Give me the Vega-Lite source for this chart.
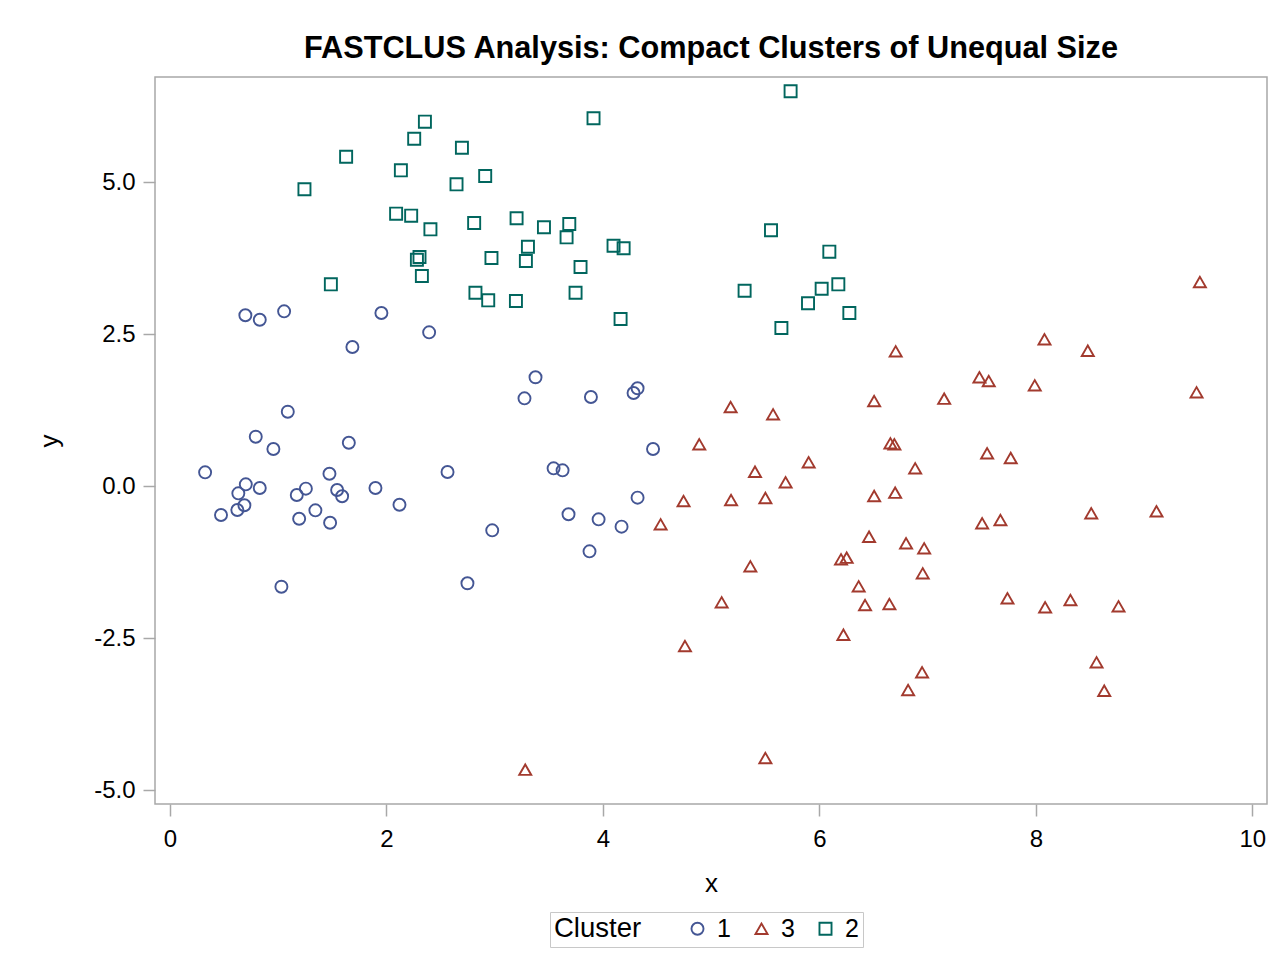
{
  "$schema": "https://vega.github.io/schema/vega-lite/v6.json",
  "autosize": "none",
  "padding": {"left": 155, "top": 77, "right": 20, "bottom": 158},
  "width": 1112,
  "height": 727,
  "background": "white",
  "title": {
    "text": "FASTCLUS Analysis: Compact Clusters of Unequal Size",
    "font": "Liberation Sans",
    "fontSize": 30.7,
    "fontWeight": "bold",
    "color": "#000000",
    "anchor": "middle",
    "baseline": "alphabetic",
    "offset": 18,
    "dy": 30
  },
  "config": {
    "view": {"stroke": "#a8a8a8", "strokeWidth": 1.5},
    "axis": {
      "domain": false,
      "grid": false,
      "ticks": true,
      "tickColor": "#a8a8a8",
      "tickWidth": 1.5,
      "tickSize": 12,
      "labelFont": "Liberation Sans",
      "labelFontSize": 24,
      "labelColor": "#000000",
      "labelFlush": false,
      "labelOverlap": false,
      "titleFont": "Liberation Sans",
      "titleFontSize": 26,
      "titleFontWeight": "normal",
      "titleColor": "#000000"
    },
    "axisX": {"labelPadding": 11, "titlePadding": 19},
    "axisY": {"labelPadding": 8, "titlePadding": 31},
    "legend": {
      "labelFont": "Liberation Sans",
      "labelFontSize": 25,
      "labelColor": "#000000",
      "titleFont": "Liberation Sans",
      "titleFontSize": 27.5,
      "titleFontWeight": "normal",
      "titleColor": "#000000"
    }
  },
  "data": {
    "values": [
      {"x": 5.734, "y": 6.492, "Cluster": "2"},
      {"x": 3.913, "y": 6.048, "Cluster": "2"},
      {"x": 2.355, "y": 5.992, "Cluster": "2"},
      {"x": 2.256, "y": 5.712, "Cluster": "2"},
      {"x": 2.697, "y": 5.564, "Cluster": "2"},
      {"x": 1.627, "y": 5.416, "Cluster": "2"},
      {"x": 2.133, "y": 5.192, "Cluster": "2"},
      {"x": 2.912, "y": 5.099, "Cluster": "2"},
      {"x": 2.647, "y": 4.962, "Cluster": "2"},
      {"x": 1.242, "y": 4.880, "Cluster": "2"},
      {"x": 2.089, "y": 4.479, "Cluster": "2"},
      {"x": 2.228, "y": 4.446, "Cluster": "2"},
      {"x": 2.406, "y": 4.222, "Cluster": "2"},
      {"x": 2.810, "y": 4.326, "Cluster": "2"},
      {"x": 3.202, "y": 4.403, "Cluster": "2"},
      {"x": 3.455, "y": 4.255, "Cluster": "2"},
      {"x": 3.689, "y": 4.309, "Cluster": "2"},
      {"x": 3.664, "y": 4.090, "Cluster": "2"},
      {"x": 3.307, "y": 3.936, "Cluster": "2"},
      {"x": 3.288, "y": 3.701, "Cluster": "2"},
      {"x": 2.970, "y": 3.750, "Cluster": "2"},
      {"x": 2.305, "y": 3.766, "Cluster": "2"},
      {"x": 2.281, "y": 3.722, "Cluster": "2"},
      {"x": 2.327, "y": 3.454, "Cluster": "2"},
      {"x": 1.486, "y": 3.317, "Cluster": "2"},
      {"x": 2.822, "y": 3.179, "Cluster": "2"},
      {"x": 2.940, "y": 3.054, "Cluster": "2"},
      {"x": 3.196, "y": 3.043, "Cluster": "2"},
      {"x": 3.793, "y": 3.602, "Cluster": "2"},
      {"x": 3.747, "y": 3.179, "Cluster": "2"},
      {"x": 4.098, "y": 3.952, "Cluster": "2"},
      {"x": 4.191, "y": 3.910, "Cluster": "2"},
      {"x": 4.163, "y": 2.747, "Cluster": "2"},
      {"x": 5.553, "y": 4.206, "Cluster": "2"},
      {"x": 6.092, "y": 3.854, "Cluster": "2"},
      {"x": 5.309, "y": 3.212, "Cluster": "2"},
      {"x": 6.021, "y": 3.245, "Cluster": "2"},
      {"x": 6.175, "y": 3.317, "Cluster": "2"},
      {"x": 5.895, "y": 3.005, "Cluster": "2"},
      {"x": 6.277, "y": 2.845, "Cluster": "2"},
      {"x": 5.649, "y": 2.599, "Cluster": "2"},
      {"x": 0.696, "y": 2.808, "Cluster": "1"},
      {"x": 0.829, "y": 2.735, "Cluster": "1"},
      {"x": 1.054, "y": 2.873, "Cluster": "1"},
      {"x": 1.953, "y": 2.845, "Cluster": "1"},
      {"x": 2.394, "y": 2.528, "Cluster": "1"},
      {"x": 1.685, "y": 2.286, "Cluster": "1"},
      {"x": 3.377, "y": 1.788, "Cluster": "1"},
      {"x": 3.275, "y": 1.442, "Cluster": "1"},
      {"x": 3.889, "y": 1.464, "Cluster": "1"},
      {"x": 4.320, "y": 1.607, "Cluster": "1"},
      {"x": 4.283, "y": 1.530, "Cluster": "1"},
      {"x": 1.088, "y": 1.222, "Cluster": "1"},
      {"x": 0.792, "y": 0.811, "Cluster": "1"},
      {"x": 0.955, "y": 0.609, "Cluster": "1"},
      {"x": 1.652, "y": 0.712, "Cluster": "1"},
      {"x": 0.324, "y": 0.225, "Cluster": "1"},
      {"x": 1.473, "y": 0.202, "Cluster": "1"},
      {"x": 2.564, "y": 0.230, "Cluster": "1"},
      {"x": 0.700, "y": 0.028, "Cluster": "1"},
      {"x": 0.829, "y": -0.033, "Cluster": "1"},
      {"x": 0.631, "y": -0.120, "Cluster": "1"},
      {"x": 1.255, "y": -0.044, "Cluster": "1"},
      {"x": 1.171, "y": -0.148, "Cluster": "1"},
      {"x": 1.544, "y": -0.066, "Cluster": "1"},
      {"x": 1.590, "y": -0.169, "Cluster": "1"},
      {"x": 1.898, "y": -0.033, "Cluster": "1"},
      {"x": 2.120, "y": -0.308, "Cluster": "1"},
      {"x": 0.687, "y": -0.317, "Cluster": "1"},
      {"x": 0.622, "y": -0.395, "Cluster": "1"},
      {"x": 0.471, "y": -0.477, "Cluster": "1"},
      {"x": 1.343, "y": -0.400, "Cluster": "1"},
      {"x": 1.193, "y": -0.538, "Cluster": "1"},
      {"x": 1.479, "y": -0.604, "Cluster": "1"},
      {"x": 2.977, "y": -0.729, "Cluster": "1"},
      {"x": 1.029, "y": -1.656, "Cluster": "1"},
      {"x": 2.748, "y": -1.600, "Cluster": "1"},
      {"x": 4.463, "y": 0.609, "Cluster": "1"},
      {"x": 3.544, "y": 0.291, "Cluster": "1"},
      {"x": 3.627, "y": 0.258, "Cluster": "1"},
      {"x": 4.320, "y": -0.192, "Cluster": "1"},
      {"x": 3.682, "y": -0.465, "Cluster": "1"},
      {"x": 3.960, "y": -0.548, "Cluster": "1"},
      {"x": 4.172, "y": -0.669, "Cluster": "1"},
      {"x": 3.876, "y": -1.074, "Cluster": "1"},
      {"x": 6.705, "y": 2.215, "Cluster": "3"},
      {"x": 5.180, "y": 1.299, "Cluster": "3"},
      {"x": 5.572, "y": 1.179, "Cluster": "3"},
      {"x": 6.506, "y": 1.398, "Cluster": "3"},
      {"x": 9.516, "y": 3.355, "Cluster": "3"},
      {"x": 8.080, "y": 2.413, "Cluster": "3"},
      {"x": 8.480, "y": 2.225, "Cluster": "3"},
      {"x": 7.479, "y": 1.788, "Cluster": "3"},
      {"x": 7.565, "y": 1.727, "Cluster": "3"},
      {"x": 7.990, "y": 1.656, "Cluster": "3"},
      {"x": 9.485, "y": 1.541, "Cluster": "3"},
      {"x": 7.153, "y": 1.436, "Cluster": "3"},
      {"x": 4.890, "y": 0.686, "Cluster": "3"},
      {"x": 6.656, "y": 0.702, "Cluster": "3"},
      {"x": 6.693, "y": 0.686, "Cluster": "3"},
      {"x": 5.901, "y": 0.390, "Cluster": "3"},
      {"x": 5.405, "y": 0.235, "Cluster": "3"},
      {"x": 5.688, "y": 0.061, "Cluster": "3"},
      {"x": 4.745, "y": -0.247, "Cluster": "3"},
      {"x": 5.184, "y": -0.230, "Cluster": "3"},
      {"x": 5.501, "y": -0.197, "Cluster": "3"},
      {"x": 6.506, "y": -0.164, "Cluster": "3"},
      {"x": 6.700, "y": -0.110, "Cluster": "3"},
      {"x": 4.533, "y": -0.630, "Cluster": "3"},
      {"x": 6.459, "y": -0.834, "Cluster": "3"},
      {"x": 6.200, "y": -1.206, "Cluster": "3"},
      {"x": 6.252, "y": -1.179, "Cluster": "3"},
      {"x": 5.362, "y": -1.321, "Cluster": "3"},
      {"x": 6.363, "y": -1.650, "Cluster": "3"},
      {"x": 5.097, "y": -1.913, "Cluster": "3"},
      {"x": 6.422, "y": -1.957, "Cluster": "3"},
      {"x": 6.647, "y": -1.941, "Cluster": "3"},
      {"x": 6.222, "y": -2.446, "Cluster": "3"},
      {"x": 4.758, "y": -2.632, "Cluster": "3"},
      {"x": 5.501, "y": -4.474, "Cluster": "3"},
      {"x": 3.282, "y": -4.666, "Cluster": "3"},
      {"x": 7.550, "y": 0.538, "Cluster": "3"},
      {"x": 7.768, "y": 0.461, "Cluster": "3"},
      {"x": 6.885, "y": 0.291, "Cluster": "3"},
      {"x": 7.504, "y": -0.613, "Cluster": "3"},
      {"x": 7.673, "y": -0.559, "Cluster": "3"},
      {"x": 8.512, "y": -0.449, "Cluster": "3"},
      {"x": 9.115, "y": -0.416, "Cluster": "3"},
      {"x": 6.801, "y": -0.942, "Cluster": "3"},
      {"x": 6.968, "y": -1.025, "Cluster": "3"},
      {"x": 6.955, "y": -1.436, "Cluster": "3"},
      {"x": 7.738, "y": -1.847, "Cluster": "3"},
      {"x": 8.086, "y": -1.995, "Cluster": "3"},
      {"x": 8.320, "y": -1.875, "Cluster": "3"},
      {"x": 8.764, "y": -1.979, "Cluster": "3"},
      {"x": 6.949, "y": -3.064, "Cluster": "3"},
      {"x": 6.820, "y": -3.355, "Cluster": "3"},
      {"x": 8.561, "y": -2.900, "Cluster": "3"},
      {"x": 8.632, "y": -3.367, "Cluster": "3"}
    ]
  },
  "mark": {"type": "point", "filled": false, "size": 145, "strokeWidth": 1.9, "opacity": 1},
  "encoding": {
    "x": {
      "field": "x",
      "type": "quantitative",
      "scale": {"domain": [-0.139, 10.136], "nice": false, "zero": false},
      "axis": {"values": [0, 2, 4, 6, 8, 10], "format": "d", "title": "x"}
    },
    "y": {
      "field": "y",
      "type": "quantitative",
      "scale": {"domain": [-5.23, 6.727], "nice": false, "zero": false},
      "axis": {
        "values": [-5, -2.5, 0, 2.5, 5],
        "title": "y",
        "labelExpr": "datum.value < 0 ? '-' + format(-datum.value, '.1f') : format(datum.value, '.1f')"
      }
    },
    "color": {
      "field": "Cluster",
      "type": "nominal",
      "scale": {"domain": ["1", "3", "2"], "range": ["#445694", "#A23A2E", "#01665E"]},
      "legend": {
        "orient": "none",
        "legendX": 395,
        "legendY": 835,
        "direction": "horizontal",
        "title": "Cluster",
        "titleOrient": "left",
        "titleBaseline": "middle",
        "titlePadding": 43,
        "labelOffset": 7,
        "columnPadding": 18,
        "symbolSize": 145,
        "symbolStrokeWidth": 1.9,
        "padding": 4,
        "strokeColor": "#c8c8c8",
        "fillColor": "#ffffff"
      }
    },
    "shape": {
      "field": "Cluster",
      "type": "nominal",
      "scale": {"domain": ["1", "3", "2"], "range": ["circle", "triangle-up", "square"]},
      "legend": {
        "orient": "none",
        "legendX": 395,
        "legendY": 835,
        "direction": "horizontal",
        "title": "Cluster",
        "titleOrient": "left",
        "titleBaseline": "middle",
        "titlePadding": 43,
        "labelOffset": 7,
        "columnPadding": 18,
        "symbolSize": 145,
        "symbolStrokeWidth": 1.9,
        "padding": 4,
        "strokeColor": "#c8c8c8",
        "fillColor": "#ffffff"
      }
    }
  }
}
